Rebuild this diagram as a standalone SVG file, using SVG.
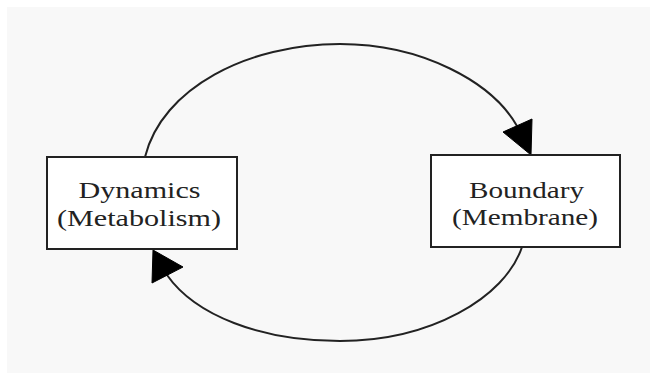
<svg xmlns="http://www.w3.org/2000/svg" width="650" height="374" viewBox="0 0 650 374">
  <style>
    .box { fill: #ffffff; stroke: #222222; stroke-width: 2; }
    .lbl { font-family: "Liberation Serif", "Times New Roman", serif; font-size: 24px; fill: #222222; text-anchor: middle; }
    .edge { fill: none; stroke: #222222; stroke-width: 2; }
    .head { fill: #000000; stroke: #000000; stroke-width: 1; stroke-linejoin: miter; }
  </style>
  <rect x="0" y="0" width="650" height="374" fill="#ffffff"/>
  <rect x="7" y="7" width="643" height="366" fill="#f8f8f8"/>

  <g id="connectors">
    <!-- Dynamics -> Boundary, over the top -->
    <path class="edge" d="M145,157 C162,88 248,44 340,44 C422,44 492,82 517,126"/>
    <polygon class="head" points="531,155 532,119 503,132"/>
    <!-- Boundary -> Dynamics, along the bottom -->
    <path class="edge" d="M522,247 C505,298 430,341 340,341 C260,341 195,315 167,275"/>
    <polygon class="head" points="153,250 183,267 152,283"/>
  </g>

  <g id="dynamics">
    <rect class="box" x="47" y="157" width="190" height="92"/>
    <text class="lbl" x="139.5" y="198" textLength="122" lengthAdjust="spacingAndGlyphs">Dynamics</text>
    <text class="lbl" x="139" y="226" textLength="164" lengthAdjust="spacingAndGlyphs">(Metabolism)</text>
  </g>

  <g id="boundary">
    <rect class="box" x="431" y="155" width="189" height="92"/>
    <text class="lbl" x="526.5" y="198" textLength="115" lengthAdjust="spacingAndGlyphs">Boundary</text>
    <text class="lbl" x="525" y="225" textLength="146" lengthAdjust="spacingAndGlyphs">(Membrane)</text>
  </g>
</svg>
